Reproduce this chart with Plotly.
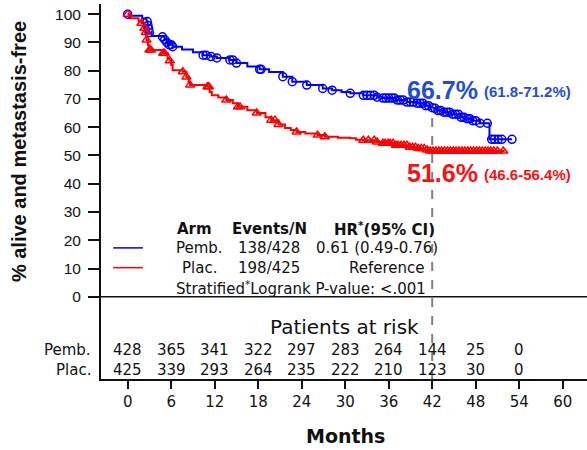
import plotly.graph_objects as go

# ---------------- data ----------------
pemb_t = [0, 0.3, 2.0, 2.6, 2.75, 2.85, 2.95, 3.3, 4.8, 5.1, 5.4, 5.7, 6.2, 7.5, 9.0, 10.4, 11.5,
          12.3, 14.1, 15.0, 16.5, 18.2, 19.5, 21.4, 22.7, 24.7, 26.9, 28.2, 29.5, 30.7, 32.5,
          34.4, 35.2, 37.0, 38.5, 39.9, 41.0, 41.7, 42.1, 42.7, 43.5, 44.5, 45.9, 46.5, 47.5,
          48.6, 49.9, 53.0]
pemb_s = [100, 99.4, 98.5, 97.4, 96.0, 94.8, 93.4, 92.3, 92.0, 91.0, 90.0, 89.2, 88.5, 87.5, 86.5,
          85.5, 85.0, 84.5, 83.8, 82.7, 81.5, 80.5, 79.5, 77.9, 76.1, 74.9, 73.7, 73.1, 72.5, 72.0,
          71.3, 70.6, 70.3, 69.6, 68.9, 68.5, 67.6, 66.9, 66.7, 65.9, 65.3, 64.6, 63.5, 63.0, 62.3,
          61.4, 55.7, 55.7]
pemb_cens = [0, 2.7, 2.8, 2.9, 3.0, 4.8, 5.1, 5.4, 5.7, 6.0, 6.2, 10.4, 10.8, 11.5, 12.3, 14.1,
             14.5, 15.0, 18.2, 18.4, 21.4, 22.7, 24.7, 26.9, 28.2, 30.7, 32.5, 33.0, 33.5, 34.0,
             34.4, 35.2, 35.6, 36.0, 36.4, 36.8, 37.2, 37.6, 38.0, 38.5, 39.0, 39.4, 39.9, 40.3,
             40.7, 41.1, 41.5, 42.0, 42.4, 42.8, 43.2, 43.6, 44.0, 44.4, 44.8, 45.2, 45.6, 46.0,
             46.4, 46.8, 47.2, 47.6, 48.0, 48.6, 49.6, 50.2, 50.6, 51.1, 51.6, 53.0]

plac_t = [0, 0.2, 1.5, 1.9, 2.2, 2.4, 2.6, 2.8, 3.0, 4.9, 5.5, 5.8, 6.0, 6.2, 7.6, 8.1, 8.4, 8.6,
          11.0, 11.3, 11.6, 12.5, 13.6, 14.5, 15.2, 16.5, 17.8, 19.0, 19.8, 20.8, 21.7, 22.5, 23.3,
          24.5, 26.2, 27.2, 29.0, 30.7, 31.5, 32.5, 34.4, 35.2, 37.0, 38.9, 39.9, 41.0, 41.7, 52.0]
plac_s = [100, 98.6, 97.5, 96.8, 95.0, 93.5, 90.9, 89.0, 87.3, 86.2, 84.5, 83.5, 82.0, 80.2, 79.6,
          77.8, 76.0, 74.9, 74.3, 72.5, 71.3, 70.5, 69.6, 68.5, 67.2, 66.0, 65.0, 63.5, 62.5, 61.0,
          59.7, 59.0, 58.3, 57.8, 57.2, 56.6, 56.3, 56.1, 55.6, 55.4, 54.8, 54.3, 53.6, 52.9, 52.5,
          51.9, 51.6, 51.6]
plac_cens = [0, 1.9, 2.3, 2.5, 2.6, 3.0, 3.2, 4.9, 5.1, 5.8, 7.6, 8.1, 8.6, 11.0, 11.2, 13.6, 15.2,
             15.5, 17.8, 19.8, 20.3, 20.8, 23.3, 26.2, 27.2, 32.5, 33.2, 34.0, 34.4, 35.2, 35.5,
             35.9, 36.2, 36.6, 37.0, 37.3, 37.7, 38.1, 38.5, 38.9, 39.3, 39.7, 40.1, 40.5, 40.9,
             41.3, 41.7, 42.1, 42.5, 42.9, 43.3, 43.7, 44.1, 44.5, 44.9, 45.3, 45.7, 46.1, 46.5,
             46.9, 47.3, 47.7, 48.1, 48.5, 48.9, 49.3, 49.7, 50.1, 50.5, 51.0, 51.8]

risk_months = [0, 6, 12, 18, 24, 30, 36, 42, 48, 54]
risk_pemb = [428, 365, 341, 322, 297, 283, 264, 144, 25, 0]
risk_plac = [425, 339, 293, 264, 235, 222, 210, 123, 30, 0]

x_ticks = [0, 6, 12, 18, 24, 30, 36, 42, 48, 54, 60]
y_ticks = [0, 10, 20, 30, 40, 50, 60, 70, 80, 90, 100]

landmark_month = 42
pemb_est, pemb_ci = "66.7%", "(61.8-71.2%)"
plac_est, plac_ci = "51.6%", "(46.6-56.4%)"

legend_header = ["Arm", "Events/N", "HR<sup>*</sup>(95% CI)"]
legend_pemb = ["Pemb.", "138/428", "0.61 (0.49-0.76)"]
legend_plac = ["Plac.", "198/425", "Reference"]
pvalue_text = "Stratified<sup>*</sup>Logrank P-value: <.001"

BLUE = "#0000ff"
RED = "#ff0000"
BLUE_TXT = "#1f4fd0"
RED_TXT = "#ff1010"


def step_value(ts, ss, t):
    v = ss[0]
    for ti, si in zip(ts, ss):
        if ti <= t:
            v = si
    return v


fig = go.Figure()

fig.add_trace(go.Scatter(x=pemb_t, y=pemb_s, mode="lines", line=dict(color=BLUE, width=2, shape="hv"),
                         showlegend=False, hoverinfo="skip"))
fig.add_trace(go.Scatter(x=plac_t, y=plac_s, mode="lines", line=dict(color=RED, width=2, shape="hv"),
                         showlegend=False, hoverinfo="skip"))
fig.add_trace(go.Scatter(x=pemb_cens, y=[step_value(pemb_t, pemb_s, t) for t in pemb_cens],
                         mode="markers", showlegend=False,
                         marker=dict(symbol="circle-open", size=8, color=BLUE, line=dict(width=1.5))))
fig.add_trace(go.Scatter(x=plac_cens, y=[step_value(plac_t, plac_s, t) for t in plac_cens],
                         mode="markers", showlegend=False,
                         marker=dict(symbol="triangle-up-open", size=8, color=RED, line=dict(width=1.5))))

Y_LO, Y_HI = -29.1, 103.6

# dashed landmark line
fig.add_shape(type="line", x0=landmark_month, x1=landmark_month, y0=Y_LO,
              y1=step_value(pemb_t, pemb_s, landmark_month), xref="x", yref="y",
              line=dict(color="#808080", width=2, dash="dash"), layer="above")
# horizontal separator at 0
fig.add_shape(type="line", x0=0, x1=1, xref="paper", y0=0, y1=0, yref="y",
              line=dict(color="#111111", width=1.5))

ann = []
BIG = dict(family="Liberation Sans, Arial", size=25)
SMALL = dict(family="Liberation Sans, Arial", size=15)
ann.append(dict(x=38.3, y=73.2, text="<b>%s</b>" % pemb_est, font=dict(color=BLUE_TXT, **BIG),
                xanchor="left", yanchor="middle"))
ann.append(dict(x=48.9, y=72.6, text="<b>%s</b>" % pemb_ci, font=dict(color=BLUE_TXT, **SMALL),
                xanchor="left", yanchor="middle"))
ann.append(dict(x=38.3, y=43.9, text="<b>%s</b>" % plac_est, font=dict(color=RED_TXT, **BIG),
                xanchor="left", yanchor="middle"))
ann.append(dict(x=48.9, y=43.3, text="<b>%s</b>" % plac_ci, font=dict(color=RED_TXT, **SMALL),
                xanchor="left", yanchor="middle"))

# legend-like table
LEG = dict(family="DejaVu Sans", size=15, color="#111111")
col_x = [9.2, 19.5, 35.4]
for cx, txt in zip(col_x, legend_header):
    ann.append(dict(x=cx, y=24.1, text="<b>%s</b>" % txt, font=LEG, xanchor="center", yanchor="middle"))
row_x = [9.9, 19.5, 34.4]
for cx, txt in zip(row_x, legend_pemb):
    ann.append(dict(x=cx, y=17.3, text=txt, font=LEG, xanchor="center", yanchor="middle"))
row_x2 = [9.9, 19.5, 35.8]
for cx, txt in zip(row_x2, legend_plac):
    ann.append(dict(x=cx, y=10.3, text=txt, font=LEG, xanchor="center", yanchor="middle"))
ann.append(dict(x=23.9, y=3.2, text=pvalue_text, font=LEG, xanchor="center", yanchor="middle"))
fig.add_shape(type="line", x0=-2.0, x1=2.1, y0=17.3, y1=17.3, xref="x", yref="y",
              line=dict(color=BLUE, width=1.5))
fig.add_shape(type="line", x0=-2.0, x1=2.1, y0=10.3, y1=10.3, xref="x", yref="y",
              line=dict(color=RED, width=1.5))

# patients at risk
RISK = dict(family="DejaVu Sans", size=15, color="#111111")
ann.append(dict(x=29.9, y=-10.6, text="Patients at risk",
                font=dict(family="DejaVu Sans", size=20, color="#111111"),
                xanchor="center", yanchor="middle"))
for m, a, b in zip(risk_months, risk_pemb, risk_plac):
    ann.append(dict(x=m, y=-18.8, text=str(a), font=RISK, xanchor="center", yanchor="middle"))
    ann.append(dict(x=m, y=-25.9, text=str(b), font=RISK, xanchor="center", yanchor="middle"))
ann.append(dict(x=-0.017, xref="paper", y=-18.8, text="Pemb.", font=RISK, xanchor="right", yanchor="middle"))
ann.append(dict(x=-0.017, xref="paper", y=-25.9, text="Plac.", font=RISK, xanchor="right", yanchor="middle"))

# axis titles
ann.append(dict(x=-0.169, xref="paper", y=51.5, yref="y", text="<b>% alive and metastasis-free</b>",
                textangle=-90, font=dict(family="Liberation Sans, Arial", size=20, color="#111111"),
                xanchor="center", yanchor="middle"))
ann.append(dict(x=30.0, y=-0.0, xref="x", yref="paper", yshift=-57, text="<b>Months</b>",
                font=dict(family="DejaVu Sans", size=19, color="#111111"),
                xanchor="center", yanchor="middle"))

for a in ann:
    a.setdefault("xref", "x")
    a.setdefault("yref", "y")
    a["showarrow"] = False
    fig.add_annotation(**a)

fig.update_layout(
    width=587, height=450,
    margin=dict(l=101, r=0, t=4, b=71),
    paper_bgcolor="white", plot_bgcolor="white",
    showlegend=False,
)
fig.update_xaxes(range=[-3.68, 63.35], tickvals=x_ticks, ticks="outside", ticklen=8, tickwidth=1.5,
                 tickcolor="#111111", showline=True, linecolor="#111111", linewidth=2,
                 showgrid=False, zeroline=False,
                 tickfont=dict(family="DejaVu Sans", size=15, color="#111111"))
fig.update_yaxes(range=[Y_LO, Y_HI], tickvals=y_ticks, ticks="outside", ticklen=11, tickwidth=1.5,
                 tickcolor="#111111", showline=True, linecolor="#111111", linewidth=2,
                 showgrid=False, zeroline=False, ticklabelstandoff=4,
                 tickfont=dict(family="Liberation Sans, Arial", size=15.5, color="#111111"))

fig.write_html("out.html", config={"displayModeBar": False},
               post_script="document.body.style.margin='0';document.body.style.overflow='hidden';")
